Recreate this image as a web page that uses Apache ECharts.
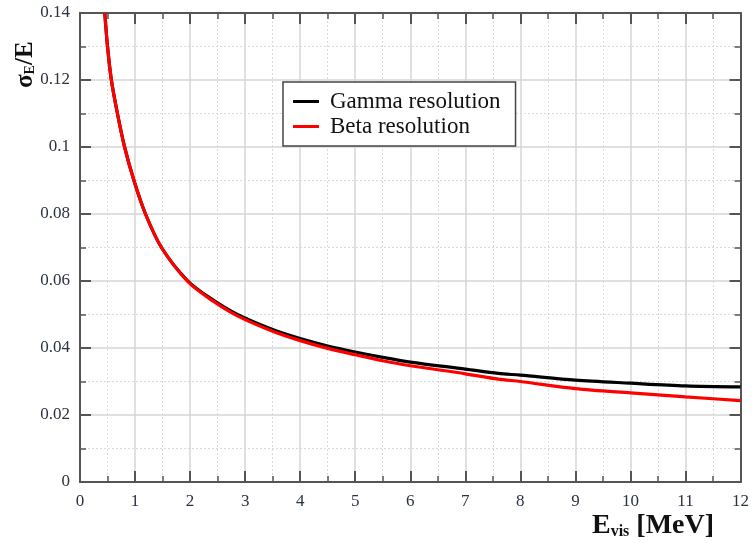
<!DOCTYPE html>
<html><head><meta charset="utf-8">
<script src="https://cdn.jsdelivr.net/npm/echarts@6/dist/echarts.min.js"></script>
<style>html,body{margin:0;padding:0;background:#fff}#c{width:752px;height:543px}</style>
</head><body><div id="c"></div>
<script>
var energies = [0.45,0.50,0.57,0.68,0.81,0.98,1.19,1.48,1.96,2.4,2.86,3.5,4.0,4.5,5.0,5.5,6.0,7.0,7.6,8.0,9.0,10,11,12];
var gammaRes = [0.140,0.130,0.120,0.110,0.100,0.090,0.080,0.070,0.0600,0.0545,0.0500,0.0455,0.0428,0.0406,0.0388,0.0372,0.0358,0.0337,0.0324,0.0319,0.0304,0.0295,0.0287,0.0284];
var betaRes  = [0.140,0.130,0.120,0.110,0.100,0.090,0.080,0.070,0.0598,0.0542,0.0496,0.0450,0.0422,0.0399,0.0380,0.0362,0.0347,0.0323,0.0307,0.0300,0.0279,0.0266,0.0254,0.0243];
var seriesNames = ['Gamma resolution','Beta resolution'];

function pairs(xs, ys){ return xs.map(function(x,i){return [x, ys[i]];}); }
var serif = '"Liberation Serif", "DejaVu Serif", serif';
var axisCol = '#555';
var chart = echarts.init(document.getElementById('c'));
var baseX = {
  type:'value', min:0, max:12, interval:1,
  axisLine:{show:true, onZero:false, lineStyle:{color:axisCol, width:2}},
  axisTick:{show:true, inside:true, length:11, lineStyle:{color:axisCol, width:2}},
  minorTick:{show:true, splitNumber:2, length:6, lineStyle:{color:axisCol, width:1.5}},
};
var baseY = {
  type:'value', min:0, max:0.14, interval:0.02,
  axisLine:{show:true, onZero:false, lineStyle:{color:axisCol, width:2}},
  axisTick:{show:true, inside:true, length:11, lineStyle:{color:axisCol, width:2}},
  minorTick:{show:true, splitNumber:2, length:6, lineStyle:{color:axisCol, width:1.5}},
};
chart.setOption({
  animation:false,
  backgroundColor:'#fff',
  grid:{left:80, right:8, top:13, bottom:61, show:false},
  legend:{
    data:seriesNames, orient:'vertical', left:283, top:82,
    backgroundColor:'#fff', borderColor:'#444', borderWidth:1.5,
    padding:[8,15,8,10], itemGap:2, itemWidth:26, itemHeight:3,
    icon:'rect',
    textStyle:{fontFamily:serif, fontSize:23, color:'#111', padding:[0,0,0,6]}
  },
  xAxis:[
    Object.assign({}, baseX, {position:'bottom',
      axisLabel:{show:true, margin:11, fontFamily:serif, fontSize:17, color:'#2b3340'},
      splitLine:{show:true, lineStyle:{color:'#d6d6d6', width:1.5}},
      minorSplitLine:{show:true, lineStyle:{color:'#d9d9d9', width:1, type:[2,2]}}
    }),
    Object.assign({}, baseX, {position:'top', axisLabel:{show:false}, splitLine:{show:false}})
  ],
  yAxis:[
    Object.assign({}, baseY, {position:'left',
      axisLabel:{show:true, margin:10, fontFamily:serif, fontSize:17, color:'#2b3340'},
      splitLine:{show:true, lineStyle:{color:'#d6d6d6', width:1.5}},
      minorSplitLine:{show:true, lineStyle:{color:'#d9d9d9', width:1, type:[2,2]}}
    }),
    Object.assign({}, baseY, {position:'right', axisLabel:{show:false}, splitLine:{show:false}})
  ],
  graphic:[
    {type:'text', left:592, top:512, style:{
      text:'{a|E}{b|vis}{a| [MeV]}',
      rich:{a:{fontFamily:serif, fontSize:28, fontWeight:'bold', fill:'#111'},
            b:{fontFamily:serif, fontSize:16, fontWeight:'bold', fill:'#111', verticalAlign:'bottom', padding:[10,0,0,0]}}
    }},
    {type:'text', x:13, y:88, rotation:Math.PI/2, style:{
      text:'{a|σ}{b|E}{a|/E}',
      rich:{a:{fontFamily:serif, fontSize:25, fontWeight:'bold', fill:'#111'},
            b:{fontFamily:serif, fontSize:14, fontWeight:'bold', fill:'#111', padding:[9,0,0,0]}}
    }}
  ],
  series:[
    {name:seriesNames[0], type:'line', data:pairs(energies, gammaRes), showSymbol:false, smooth:0.3,
     lineStyle:{color:'#000', width:3.2}, itemStyle:{color:'#000'}, clip:true},
    {name:seriesNames[1], type:'line', data:pairs(energies, betaRes), showSymbol:false, smooth:0.3,
     lineStyle:{color:'#ff0000', width:3.2}, itemStyle:{color:'#ff0000'}, clip:true}
  ]
});
</script></body></html>
